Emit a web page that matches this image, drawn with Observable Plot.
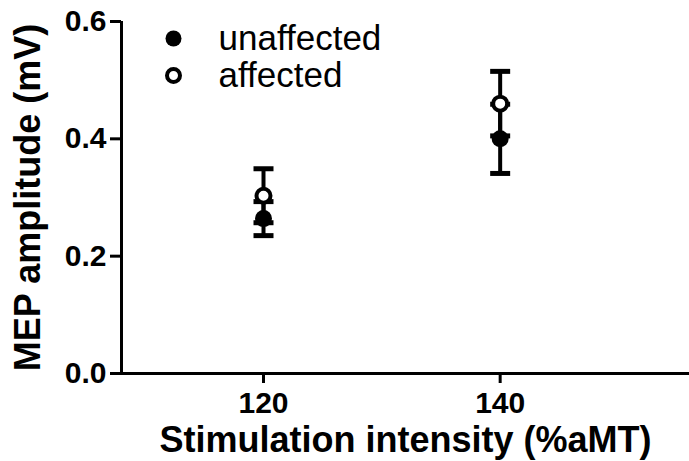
<!DOCTYPE html>
<html>
<head>
<meta charset="utf-8">
<script src="https://cdn.jsdelivr.net/npm/d3@7"></script>
<script src="https://cdn.jsdelivr.net/npm/@observablehq/plot@0.6"></script>
<style>
  html, body { margin: 0; padding: 0; background: #fff; }
  #chart svg { display: block; }
</style>
</head>
<body>
<div id="chart"></div>
<script>
// ---- data ----
const intensities = [120, 140];
const unaffectedMean = [0.264, 0.400];
const unaffectedErr = [0.029, 0.059];
const affectedMean = [0.303, 0.460];
const affectedErr = [0.046, 0.055];
const seriesNames = ["unaffected", "affected"];
const xTicks = [120, 140];
const yTicks = [0, 0.2, 0.4, 0.6];
const xDomain = [108, 156];
const yDomain = [0, 0.6];
const xTitle = "Stimulation intensity (%aMT)";
const yTitle = "MEP amplitude (mV)";

const rows = [];
intensities.forEach((x, i) => {
  rows.push({x, group: seriesNames[0], mean: unaffectedMean[i], err: unaffectedErr[i]});
  rows.push({x, group: seriesNames[1], mean: affectedMean[i], err: affectedErr[i]});
});

const capSymbol = {
  draw(context, size) {
    const w = Math.sqrt(size / Math.PI);
    context.moveTo(-w, 0);
    context.lineTo(w, 0);
  }
};

const font = "'Liberation Sans', Arial, sans-serif";

const chart = Plot.plot({
  width: 689,
  height: 461,
  marginLeft: 121,
  marginRight: 0,
  marginTop: 21,
  marginBottom: 88,
  style: {fontFamily: font, background: "#fff", color: "#000"},
  x: {domain: xDomain},
  y: {domain: yDomain},
  marks: [
    Plot.axisY({ticks: yTicks, tickFormat: d3.format(".1f"), tickSize: 11, tickPadding: 4,
      fontSize: 30, fontWeight: "bold", strokeWidth: 3, label: null}),
    Plot.axisX({ticks: xTicks, tickFormat: d3.format("d"), tickSize: 10, tickPadding: 8,
      fontSize: 30, fontWeight: "bold", strokeWidth: 3, label: null}),
    Plot.ruleX([xDomain[0]], {y1: yDomain[0], y2: yDomain[1], strokeWidth: 3}),
    Plot.ruleY([yDomain[0]], {x1: xDomain[0], x2: xDomain[1], strokeWidth: 3}),
    // error bars
    Plot.ruleX(rows, {x: "x", y1: d => d.mean - d.err, y2: d => d.mean + d.err, strokeWidth: 4}),
    Plot.dot(rows, {x: "x", y: d => d.mean + d.err, symbol: capSymbol, r: 10, stroke: "black", strokeWidth: 5, fill: "none"}),
    Plot.dot(rows, {x: "x", y: d => d.mean - d.err, symbol: capSymbol, r: 10, stroke: "black", strokeWidth: 5, fill: "none"}),
    // points
    Plot.dot(rows.filter(d => d.group === seriesNames[0]), {x: "x", y: "mean", r: 8.5, fill: "black", stroke: "none"}),
    Plot.dot(rows.filter(d => d.group === seriesNames[1]), {x: "x", y: "mean", r: 7, fill: "white", stroke: "black", strokeWidth: 4}),
    // legend
    Plot.dot([seriesNames[0]], {frameAnchor: "top-left", dx: 52, dy: 17, r: 8, fill: "black"}),
    Plot.dot([seriesNames[1]], {frameAnchor: "top-left", dx: 52, dy: 54, r: 6.5, fill: "white", stroke: "black", strokeWidth: 4}),
    Plot.text([seriesNames[0]], {text: d => d, frameAnchor: "top-left", dx: 97, dy: 17, textAnchor: "start", lineAnchor: "middle", fontSize: 35}),
    Plot.text([seriesNames[1]], {text: d => d, frameAnchor: "top-left", dx: 97, dy: 54, textAnchor: "start", lineAnchor: "middle", fontSize: 35}),
    // axis titles
    Plot.text([xTitle], {text: d => d, frameAnchor: "bottom", dy: 67, textAnchor: "middle", lineAnchor: "middle", fontSize: 36, fontWeight: "bold"}),
    Plot.text([yTitle], {text: d => d, frameAnchor: "left", dx: -93, rotate: -90, textAnchor: "middle", lineAnchor: "middle", fontSize: 36, fontWeight: "bold"})
  ]
});
document.getElementById("chart").appendChild(chart);
</script>
</body>
</html>
